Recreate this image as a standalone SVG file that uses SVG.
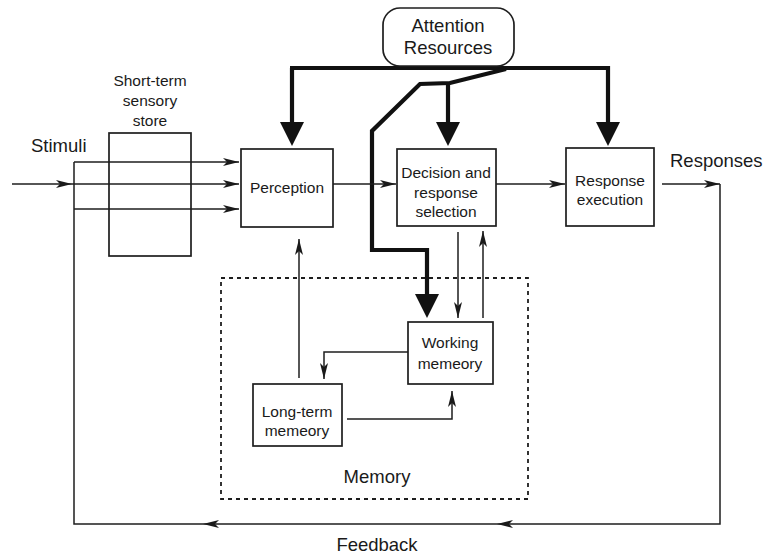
<svg xmlns="http://www.w3.org/2000/svg" width="768" height="555" viewBox="0 0 768 555">
  <style>
    .box { fill: #ffffff; stroke: #1e1e1e; stroke-width: 1.7; }
    .store { fill: none; stroke: #1e1e1e; stroke-width: 1.7; }
    .group { fill: none; stroke: #1e1e1e; stroke-width: 1.8; stroke-dasharray: 4 4; }
    .lbl { font-family: "Liberation Sans", Arial, sans-serif; font-size: 15.5px; fill: #1a1a1a; text-anchor: middle; }
    .big { font-family: "Liberation Sans", Arial, sans-serif; font-size: 18.5px; fill: #1a1a1a; }
    .thin { fill: none; stroke: #1e1e1e; stroke-width: 1.5; }
    .thick { fill: none; stroke: #111111; stroke-width: 4.2; stroke-linejoin: miter; }
  </style>
  <defs>
    <marker id="arrow" viewBox="0 0 16 8" refX="16" refY="4" markerWidth="16" markerHeight="8" markerUnits="userSpaceOnUse" orient="auto">
      <path d="M0,0 L16,4 L0,8 L4,4 Z" fill="#1a1a1a"/>
    </marker>
    <marker id="bigArrow" viewBox="0 0 24 24" refX="12" refY="12" markerWidth="24" markerHeight="24" markerUnits="userSpaceOnUse" orient="auto">
      <path d="M0,0 L24,12 L0,24 Z" fill="#111111"/>
    </marker>
  </defs>
  <rect width="768" height="555" fill="#ffffff"/>

  <!-- memory region (dashed) -->
  <g id="memory">
    <rect class="group" x="221" y="278" width="307" height="221"/>
    <text class="big" x="377" y="483" text-anchor="middle">Memory</text>
  </g>

  <!-- sensory store -->
  <g id="sensory-store">
    <rect class="store" x="109" y="133" width="82" height="123"/>
    <text class="lbl" x="150" y="86">Short-term</text>
    <text class="lbl" x="150" y="106">sensory</text>
    <text class="lbl" x="150" y="126">store</text>
  </g>

  <g id="connectors">
    <!-- attention resource allocation -->
    <path class="thick" d="M292,68 V134" marker-end="url(#bigArrow)"/>
    <path class="thick" d="M290,68 H608 V134" marker-end="url(#bigArrow)"/>
    <path class="thick" d="M448,83 V134" marker-end="url(#bigArrow)"/>
    <path class="thick" d="M506,69 L450,83 L420,84 L372,131 V250 H427 V306" marker-end="url(#bigArrow)"/>

    <!-- stimuli into perception -->
    <path class="thin" d="M12,184 H72" marker-end="url(#arrow)"/>
    <path class="thin" d="M72,184 H239" marker-end="url(#arrow)"/>
    <path class="thin" d="M74,162 H239" marker-end="url(#arrow)"/>
    <path class="thin" d="M74,209 H239" marker-end="url(#arrow)"/>

    <!-- processing chain -->
    <path class="thin" d="M333,184 H396" marker-end="url(#arrow)"/>
    <path class="thin" d="M496,184 H565" marker-end="url(#arrow)"/>
    <path class="thin" d="M662,184 H720" marker-end="url(#arrow)"/>

    <!-- feedback loop -->
    <path class="thin" d="M720,184 V524 H497" marker-end="url(#arrow)"/>
    <path class="thin" d="M497,524 H203" marker-end="url(#arrow)"/>
    <path class="thin" d="M203,524 H74 V162"/>

    <!-- decision <-> working memory -->
    <path class="thin" d="M458,232 V318" marker-end="url(#arrow)"/>
    <path class="thin" d="M483,318 V231" marker-end="url(#arrow)"/>

    <!-- memory exchanges -->
    <path class="thin" d="M299,378 V239" marker-end="url(#arrow)"/>
    <path class="thin" d="M408,352 H324 V379" marker-end="url(#arrow)"/>
    <path class="thin" d="M347,419 H452 V391" marker-end="url(#arrow)"/>
  </g>

  <g id="attention">
    <rect class="box" x="383" y="8" width="131" height="58" rx="17"/>
    <text class="big" x="448" y="32" text-anchor="middle">Attention</text>
    <text class="big" x="448" y="54" text-anchor="middle">Resources</text>
  </g>

  <g id="perception">
    <rect class="box" x="241" y="149" width="92" height="78"/>
    <text class="lbl" x="287" y="193">Perception</text>
  </g>

  <g id="decision">
    <rect class="box" x="397" y="149" width="99" height="77"/>
    <text class="lbl" x="446" y="178">Decision and</text>
    <text class="lbl" x="446" y="198">response</text>
    <text class="lbl" x="446" y="217">selection</text>
  </g>

  <g id="response-execution">
    <rect class="box" x="566" y="148" width="88" height="78"/>
    <text class="lbl" x="610" y="186">Response</text>
    <text class="lbl" x="610" y="205">execution</text>
  </g>

  <g id="working-memory">
    <rect class="box" x="408" y="322" width="85" height="62"/>
    <text class="lbl" x="450" y="348">Working</text>
    <text class="lbl" x="450" y="369">memeory</text>
  </g>

  <g id="long-term-memory">
    <rect class="box" x="253" y="384" width="89" height="62"/>
    <text class="lbl" x="297" y="417">Long-term</text>
    <text class="lbl" x="297" y="436">memeory</text>
  </g>

  <!-- free labels -->
  <text class="big" x="31" y="152">Stimuli</text>
  <text class="big" x="670" y="167">Responses</text>
  <text class="big" x="377" y="551" text-anchor="middle">Feedback</text>
</svg>
